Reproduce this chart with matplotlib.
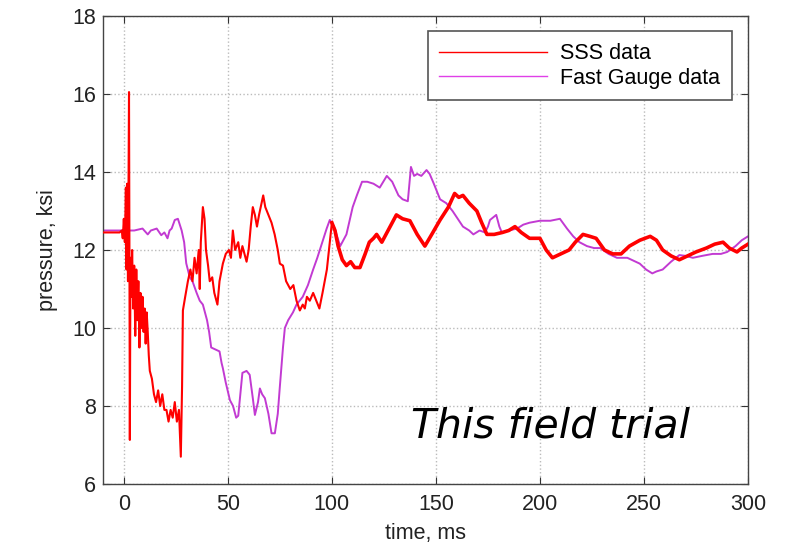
import matplotlib
matplotlib.use("Agg")
import matplotlib.pyplot as plt
import numpy as np

plt.rcParams['font.family'] = ['Liberation Sans', 'DejaVu Sans']

# SSS data (red)
sss_t = [-10, -2, -1, -0.5, 0, 0.5, 1, 1.3, 1.6, 2, 2.3, 2.5, 2.7, 2.9, 3.2, 3.6, 4.0, 4.5,
         5, 5.5, 6, 6.5, 7, 7.5, 8, 8.5, 9, 9.5, 10, 10.5, 11, 11.5, 12, 12.5, 13.5, 14.5,
         15.5, 16.5, 17.5, 18.5, 19.5, 20.5, 21.5, 22.5, 23.5, 24.5, 25.5, 26.5, 27.4, 28.0,
         28.4, 29.5, 30.8, 32, 33, 34, 35, 36, 36.5, 37, 38, 38.8, 39.5, 40.5, 41.3, 42.5,
         43.5, 45, 46, 47.6, 49, 50.5, 51.5, 52.4, 53.5, 55, 56, 57, 59, 60, 61, 62, 63, 64,
         65, 67, 68, 69.5, 71, 72.5, 74, 75, 76.5, 78, 80, 81.5, 83, 84.6, 86, 87, 88, 89.4,
         91, 92.5, 94, 95.5, 97.6, 99, 100, 101.5, 103, 105, 107, 109, 111, 113.5, 116, 118,
         120, 121.5, 124, 127, 131, 134, 137.5, 141, 144.7, 148, 152, 156, 159, 161, 163,
         166, 169.7, 172, 174.5, 178, 182, 185, 188, 191, 195, 200, 203, 206, 210, 214, 217,
         220.7, 224, 227, 231, 235, 239, 243, 248, 253, 256, 259, 263, 267, 271, 275, 280,
         284, 288, 291, 294.7, 297, 300]
sss_p = [12.45, 12.45, 12.5, 12.3, 12.8, 12.2, 13.6, 11.5, 13.7, 11.2, 14.0, 16.05, 12.0, 7.13,
         11.8, 10.8, 12.0, 10.5, 11.6, 9.8, 11.5, 10.2, 11.2, 9.5, 10.9, 10.0, 10.8, 9.9, 10.5,
         9.6, 10.4, 9.9, 9.3, 8.9, 8.7, 8.3, 8.1, 8.4, 8.0, 8.3, 7.9, 7.9, 7.6, 7.9, 7.7, 8.1,
         7.6, 7.9, 6.7, 8.5, 10.45, 10.8, 11.2, 11.5, 11.2, 11.8, 11.4, 12.0, 11.0, 12.2, 13.1,
         12.8, 12.0, 11.6, 11.2, 11.3, 10.9, 10.6, 11.2, 11.65, 11.9, 12.0, 11.8, 12.5, 12.0,
         12.2, 11.8, 12.1, 11.7, 12.0, 12.6, 13.1, 12.9, 12.6, 12.9, 13.4, 13.1, 12.9, 12.7,
         12.4, 12.0, 11.65, 11.6, 11.2, 11.0, 11.1, 10.7, 10.45, 10.6, 10.5, 10.8, 10.7, 10.9,
         10.7, 10.5, 10.9, 11.5, 12.2, 12.7, 12.5, 12.1, 11.75, 11.6, 11.7, 11.55, 11.55, 11.9,
         12.2, 12.3, 12.4, 12.2, 12.5, 12.9, 12.8, 12.75, 12.4, 12.1, 12.4, 12.77, 13.1, 13.45,
         13.35, 13.4, 13.2, 13.0, 12.7, 12.4, 12.4, 12.45, 12.5, 12.6, 12.45, 12.3, 12.3, 12.0,
         11.8, 11.9, 12.0, 12.2, 12.4, 12.35, 12.3, 12.0, 11.9, 11.9, 12.1, 12.25, 12.35, 12.25,
         12.0, 11.85, 11.75, 11.85, 11.95, 12.05, 12.15, 12.2, 12.05, 11.95, 12.05, 12.15]

# Fast Gauge data (purple)
fg_t = [-10, 0, 5, 9, 11.5, 13, 15.8, 18, 19.5, 21, 22, 23, 24.5, 26, 27.8, 29, 30, 31.7, 33,
        35, 36.5, 38, 40, 41, 42, 44, 46, 47, 47.6, 49, 51, 52.5, 54, 55, 56, 57, 59, 60.5,
        62, 63, 64.5, 65.4, 66.5, 67.8, 69.5, 71, 72.6, 74, 75, 76.5, 77.4, 79, 81.3, 83, 86,
        88.5, 91, 93, 95.7, 97.5, 99, 101, 104, 107, 110, 112, 114.5, 117, 120, 123, 126.4,
        129, 132, 134, 136.5, 138, 139.5, 141, 143, 145.5, 147, 149, 152, 155, 158, 160.5,
        163, 166, 168, 171, 173.6, 175, 176, 179, 180.5, 181.7, 185, 189, 192, 195, 200, 205,
        209.6, 213, 216, 219, 222.6, 226, 229, 233, 237, 242, 248, 251, 254, 256, 259, 263,
        267, 270, 273.5, 278, 283, 287, 290, 294, 297, 300]
fg_p = [12.5, 12.5, 12.5, 12.55, 12.4, 12.5, 12.55, 12.38, 12.45, 12.3, 12.5, 12.55, 12.77,
        12.8, 12.5, 12.2, 11.66, 11.3, 11.2, 10.9, 10.7, 10.6, 10.2, 9.9, 9.5, 9.45, 9.4, 9.1,
        8.97, 8.6, 8.15, 8.0, 7.7, 7.75, 8.3, 8.85, 8.9, 8.8, 8.2, 7.77, 8.1, 8.45, 8.3, 8.2,
        7.8, 7.3, 7.3, 7.8, 8.5, 9.5, 10.0, 10.2, 10.4, 10.6, 10.8, 11.1, 11.5, 11.8, 12.25,
        12.55, 12.77, 12.6, 12.1, 12.4, 13.1, 13.4, 13.75, 13.75, 13.7, 13.6, 13.9, 13.75,
        13.4, 13.3, 13.25, 14.13, 13.9, 13.95, 13.9, 14.05, 13.95, 13.7, 13.3, 13.2, 13.0,
        12.8, 12.6, 12.5, 12.4, 12.5, 12.45, 12.6, 12.77, 12.9, 12.6, 12.45, 12.5, 12.55,
        12.65, 12.7, 12.75, 12.75, 12.8, 12.55, 12.35, 12.2, 12.1, 12.05, 12.05, 11.9, 11.8,
        11.8, 11.65, 11.5, 11.4, 11.45, 11.5, 11.7, 11.87, 11.85, 11.8, 11.85, 11.9, 11.9,
        11.95, 12.1, 12.25, 12.35]

x_ticks = [0, 50, 100, 150, 200, 250, 300]
y_ticks = [6, 8, 10, 12, 14, 16, 18]

red = '#ff0000'
purple = '#c23ad2'

fig = plt.figure(figsize=(7.96, 5.5), dpi=100)
ax = fig.add_axes([0.1294, 0.12, 0.8103, 0.8509])

sss_t = np.array(sss_t)
sss_p = np.array(sss_p)
early = sss_t <= 100
late = sss_t >= 100

ax.plot(fg_t, fg_p, color=purple, lw=1.4, zorder=2)
ax.plot(sss_t[early], sss_p[early], color=red, lw=1.5, zorder=3)
ax.plot(sss_t[late], sss_p[late], color=red, lw=2.6, zorder=3)

# legend handles
h1, = ax.plot([], [], color=red, lw=1.0)
h2, = ax.plot([], [], color='#e040e8', lw=1.0)
leg = ax.legend([h1, h2], ['SSS data', 'Fast Gauge data'], loc='upper right',
                bbox_to_anchor=(0.975, 0.967), fontsize=15.5, fancybox=False,
                framealpha=1, edgecolor='#555555', handlelength=5.0,
                borderpad=0.55, labelspacing=0.15, handletextpad=0.6,
                borderaxespad=0.0)
leg.get_frame().set_linewidth(1.2)

ax.text(0.477, 0.1, 'This field trial', transform=ax.transAxes, fontsize=29.5,
        style='italic', family='DejaVu Sans', color='black')

ax.set_xlim(-10, 300)
ax.set_ylim(6, 18)
ax.set_xticks(x_ticks)
ax.set_yticks(y_ticks)
ax.tick_params(direction='in', top=True, right=True, labelsize=15.5, length=5,
               colors='#333333', labelcolor='#222222')
ax.tick_params(axis='x', pad=7)
ax.tick_params(axis='y', pad=5)
ax.grid(True, linestyle=':', color='#bbbbbb', lw=1.0)
for s in ax.spines.values():
    s.set_color('#444444')
    s.set_linewidth(1.0)

ax.set_xlabel('time, ms', fontsize=15.5, color='#222222', labelpad=6)
ax.set_ylabel('pressure, ksi', fontsize=15.5, color='#222222', labelpad=10)

fig.savefig('out.png', dpi=100)
